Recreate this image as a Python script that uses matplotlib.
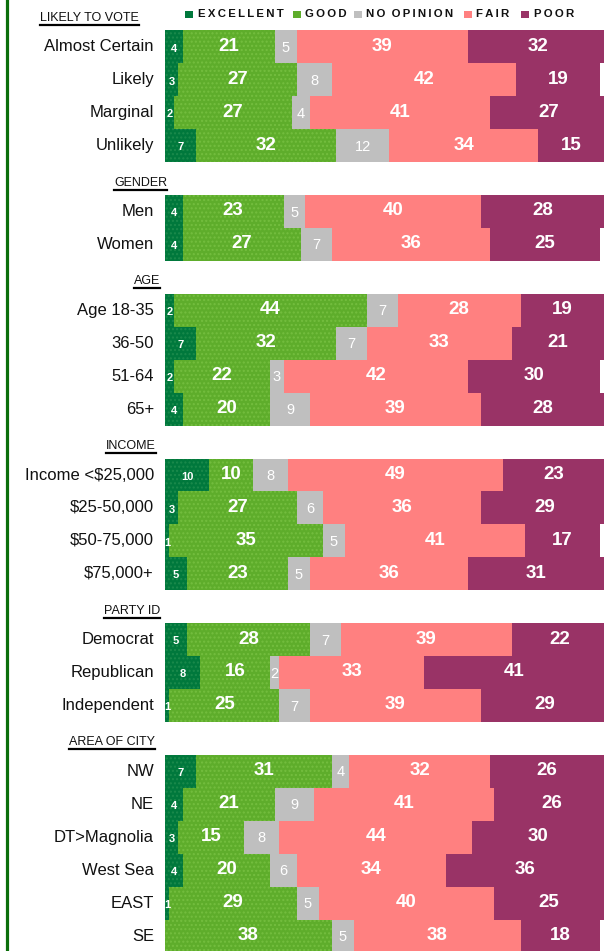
import matplotlib
matplotlib.use("Agg")
import matplotlib.pyplot as plt
from matplotlib.patches import Rectangle
from matplotlib.lines import Line2D

# ---------------- data ----------------
series = ["EXCELLENT", "GOOD", "NO OPINION", "FAIR", "POOR"]
colors = ["#00783C", "#5EAD2B", "#BFBFBF", "#FF8080", "#993366"]

groups = ["LIKELY TO VOTE", "GENDER", "AGE", "INCOME", "PARTY ID", "AREA OF CITY"]

likely_labels = ["Almost Certain", "Likely", "Marginal", "Unlikely"]
likely_vals = [[4, 21, 5, 39, 32], [3, 27, 8, 42, 19], [2, 27, 4, 41, 27], [7, 32, 12, 34, 15]]

gender_labels = ["Men", "Women"]
gender_vals = [[4, 23, 5, 40, 28], [4, 27, 7, 36, 25]]

age_labels = ["Age 18-35", "36-50", "51-64", "65+"]
age_vals = [[2, 44, 7, 28, 19], [7, 32, 7, 33, 21], [2, 22, 3, 42, 30], [4, 20, 9, 39, 28]]

income_labels = ["Income <$25,000", "$25-50,000", "$50-75,000", "$75,000+"]
income_vals = [[10, 10, 8, 49, 23], [3, 27, 6, 36, 29], [1, 35, 5, 41, 17], [5, 23, 5, 36, 31]]

party_labels = ["Democrat", "Republican", "Independent"]
party_vals = [[5, 28, 7, 39, 22], [8, 16, 2, 33, 41], [1, 25, 7, 39, 29]]

area_labels = ["NW", "NE", "DT>Magnolia", "West Sea", "EAST", "SE"]
area_vals = [[7, 31, 4, 32, 26], [4, 21, 9, 41, 26], [3, 15, 8, 44, 30],
             [4, 20, 6, 34, 36], [1, 29, 5, 40, 25], [0, 38, 5, 38, 18]]

group_labels = [likely_labels, gender_labels, age_labels, income_labels, party_labels, area_labels]
group_vals = [likely_vals, gender_vals, age_vals, income_vals, party_vals, area_vals]

# ---------------- layout ----------------
W, H = 604, 951
fig = plt.figure(figsize=(W / 100, H / 100), dpi=100)
fig.patch.set_facecolor("white")

row0_px, pitch_px = 14.0, 32.93
bar_left_px, bar_right_px = 165, 604
ax = fig.add_axes([bar_left_px / W, 0, (bar_right_px - bar_left_px) / W, 1])
ax.set_xlim(0, 100)
ax.set_ylim((H - row0_px) / pitch_px, -row0_px / pitch_px)
ax.axis("off")
px_per_unit = (bar_right_px - bar_left_px) / 100.0

arial = ["Liberation Sans", "DejaVu Sans"]

header_right_px = [139, 167, 160, 156, 160, 155]
header_rows = []
row = 0
for g, (labs, vals) in enumerate(zip(group_labels, group_vals)):
    header_rows.append(row)
    row += 1
    for lab, v in zip(labs, vals):
        left = 0
        for k, val in enumerate(v):
            if val > 0:
                hatch = "...." if k in (0, 1) else None
                ec = {0: "#1B8A4C", 1: "#74BE3F"}.get(k, colors[k])
                ax.barh(row, val, left=left, height=1.0, color=colors[k],
                        edgecolor=ec, linewidth=0, hatch=hatch)
                cx = left + val / 2
                if k == 0:
                    ax.text(cx, row + 0.05, str(val), ha="center", va="center", color="white",
                            fontsize=8, fontweight="bold", family=arial)
                elif k == 2:
                    ax.text(cx, row + 0.03, str(val), ha="center", va="center", color="white",
                            fontsize=10.5, family=arial)
                else:
                    ax.text(cx, row - 0.02, str(val), ha="center", va="center", color="white",
                            fontsize=13.5, fontweight="bold", family=arial)
            left += val
        ax.text(-(bar_left_px - 154) / px_per_unit, row, lab.replace("$", r"\$"),
                ha="right", va="center", fontsize=12, color="#111111", family=arial,
                clip_on=False)
        row += 1

# group headers (underlined)
hdr_texts = []
for g, name in enumerate(groups):
    y_px = row0_px + header_rows[g] * pitch_px + 4
    t = fig.text(header_right_px[g] / W, 1 - y_px / H, name, ha="right", va="center",
                 fontsize=9, color="#111111", family=arial)
    hdr_texts.append(t)

# legend
leg_sq_px = [185, 293, 354, 464, 521]
leg_y_px = 14
for k, name in enumerate(series):
    sq = Rectangle((leg_sq_px[k] / W, 1 - (leg_y_px + 4) / H), 7.5 / W, 7.5 / H,
                   transform=fig.transFigure, facecolor=colors[k], edgecolor="none")
    fig.add_artist(sq)
    spaced = "\u2009".join(list(name)).replace("\u2009 \u2009", "  ")
    fig.text((leg_sq_px[k] + 12.5) / W, 1 - leg_y_px / H, spaced, ha="left", va="center",
             fontsize=8.2, fontweight="bold", color="#111111", family=arial)

# left green rule
fig.add_artist(Line2D([6.5 / W, 6.5 / W], [0, 1], transform=fig.transFigure,
                      color="#0B6E0B", linewidth=2.3))

# underline headers
fig.canvas.draw()
r = fig.canvas.get_renderer()
for t in hdr_texts:
    bb = t.get_window_extent(renderer=r)
    yl = bb.y0 - 1.0
    fig.add_artist(Line2D([bb.x0 / W, bb.x1 / W], [yl / H, yl / H], transform=fig.transFigure,
                          color="black", linewidth=1.6))

fig.savefig("out.png", dpi=100, facecolor="white")
